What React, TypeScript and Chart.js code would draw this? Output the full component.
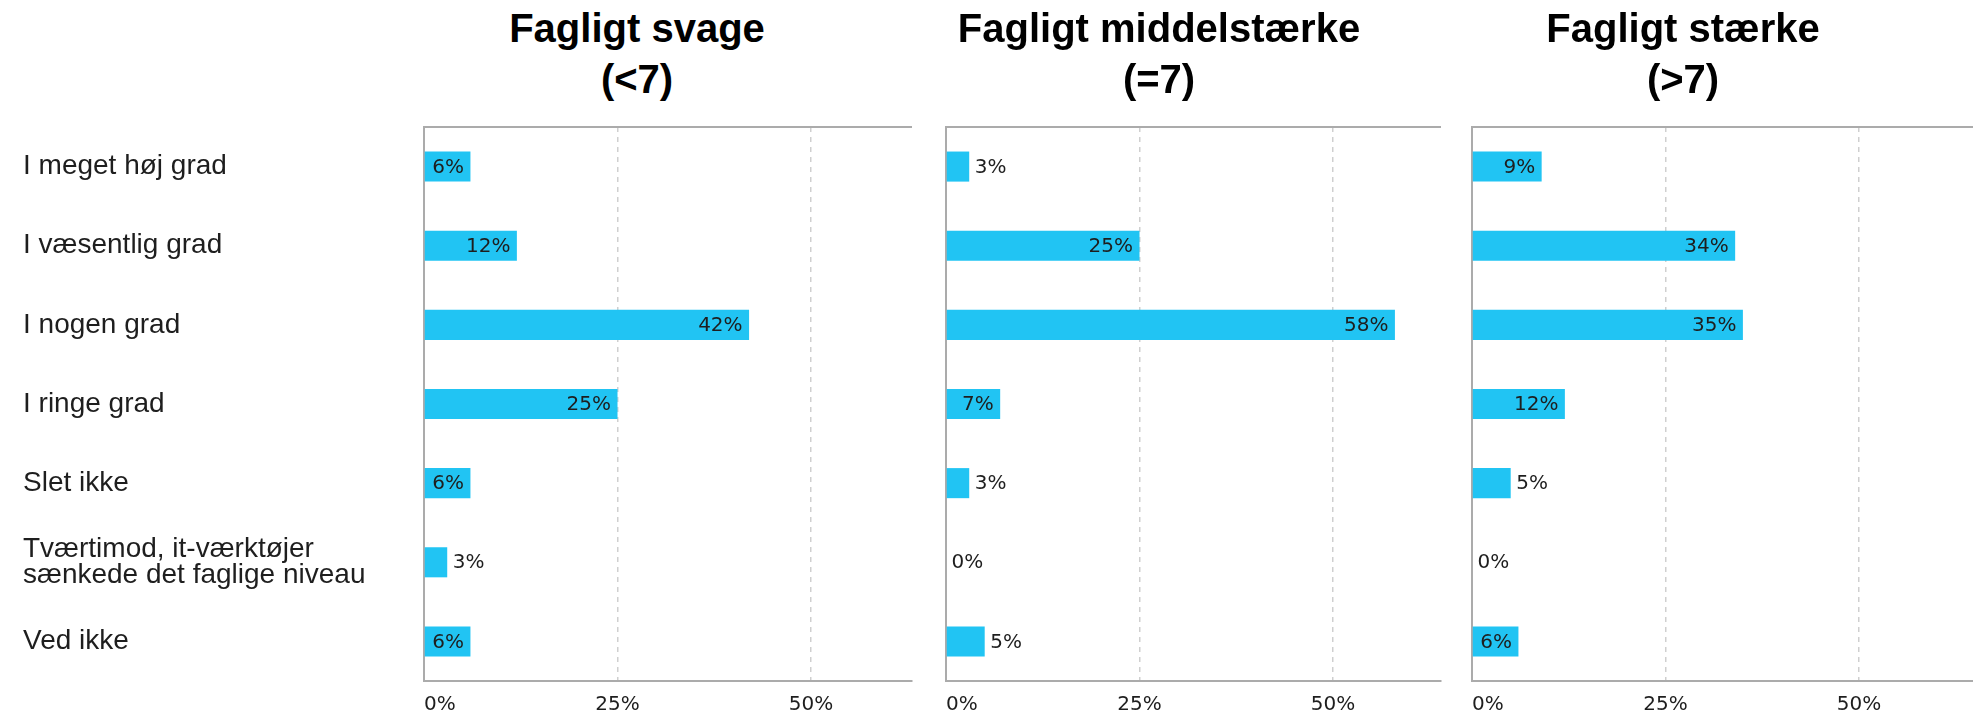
import React, { useEffect, useRef } from 'react';
import { Chart, registerables } from 'chart.js';

Chart.register(...registerables);

// ---------- data ----------
const categories: (string | string[])[] = [
  'I meget høj grad',
  'I væsentlig grad',
  'I nogen grad',
  'I ringe grad',
  'Slet ikke',
  ['Tværtimod, it-værktøjer', 'sænkede det faglige niveau'],
  'Ved ikke',
];
const svageTitle = ['Fagligt svage', '(<7)'];
const middelTitle = ['Fagligt middelstærke', '(=7)'];
const staerkeTitle = ['Fagligt stærke', '(>7)'];
const svageValues = [6, 12, 42, 25, 6, 3, 6];
const middelValues = [3, 25, 58, 7, 3, 0, 5];
const staerkeValues = [9, 34, 35, 12, 5, 0, 6];
const xTickStep = 25;

// ---------- style / layout ----------
const BAR = '#21C4F3';
const AXIS = '#ababab';
const GRID = '#cfcfcf';
const TEXT = '#1e1e1e';
const PX_PER_PCT = 7.74;
const CANVAS_TOP = 100;
const CANVAS_H = 615;
const PLOT_TOP = 127;

type Geo = {
  canvasLeft: number;
  canvasWidth: number;
  plotLeft: number;
  plotRight: number;
  padLeft: number;
  titleCenter: number;
};

const geo1: Geo = { canvasLeft: 0, canvasWidth: 930, plotLeft: 424, plotRight: 912, padLeft: 23, titleCenter: 637 };
const geo2: Geo = { canvasLeft: 886, canvasWidth: 565, plotLeft: 946, plotRight: 1441, padLeft: 0, titleCenter: 1159 };
const geo3: Geo = { canvasLeft: 1412, canvasWidth: 561, plotLeft: 1472, plotRight: 1973, padLeft: 0, titleCenter: 1683 };

const topLinePlugin = {
  id: 'topLine',
  afterDraw(chart: any) {
    const { ctx, chartArea } = chart;
    ctx.save();
    ctx.strokeStyle = AXIS;
    ctx.lineWidth = 2;
    ctx.beginPath();
    ctx.moveTo(chartArea.left - 1, chartArea.top);
    ctx.lineTo(chartArea.right, chartArea.top);
    ctx.stroke();
    ctx.restore();
  },
};

const dataLabelPlugin = {
  id: 'dataLabels',
  afterDatasetsDraw(chart: any) {
    const { ctx } = chart;
    const meta = chart.getDatasetMeta(0);
    const values = chart.data.datasets[0].data as number[];
    ctx.save();
    ctx.font = '20px "DejaVu Sans"';
    ctx.fillStyle = TEXT;
    ctx.textBaseline = 'middle';
    meta.data.forEach((bar: any, i: number) => {
      const { x, y, base } = bar.getProps(['x', 'y', 'base'], true);
      const text = values[i] + '%';
      const w = ctx.measureText(text).width;
      if (x - base >= w + 12) {
        ctx.textAlign = 'right';
        ctx.fillText(text, x - 6.5, y + 1);
      } else {
        ctx.textAlign = 'left';
        ctx.fillText(text, x + 5.5, y + 1);
      }
    });
    ctx.restore();
  },
};

function Panel({ values, geo, showLabels, title }: { values: number[]; geo: Geo; showLabels: boolean; title: string[] }) {
  const ref = useRef<HTMLCanvasElement | null>(null);
  useEffect(() => {
    if (!ref.current) return;
    const yWidth = geo.plotLeft - geo.canvasLeft - geo.padLeft;
    const padRight = geo.canvasLeft + geo.canvasWidth - geo.plotRight;
    const axisMax = (geo.plotRight - geo.plotLeft) / PX_PER_PCT;
    const chart = new Chart(ref.current, {
      type: 'bar',
      data: {
        labels: categories as any,
        datasets: [
          {
            data: values,
            backgroundColor: BAR,
            borderWidth: 0,
            barPercentage: 0.38,
            categoryPercentage: 1,
          },
        ],
      },
      options: {
        indexAxis: 'y',
        animation: false,
        responsive: false,
        maintainAspectRatio: false,
        layout: { padding: { left: geo.padLeft, right: padRight, top: PLOT_TOP - CANVAS_TOP, bottom: 0 } },
        plugins: {
          legend: { display: false },
          tooltip: { enabled: false },
          title: { display: false },
        },
        scales: {
          x: {
            type: 'linear',
            min: 0,
            max: axisMax,
            ticks: {
              stepSize: xTickStep,
              includeBounds: false,
              autoSkip: false,
              maxRotation: 0,
              padding: 12,
              color: TEXT,
              font: { family: '"DejaVu Sans"', size: 20 },
              callback: (v: any) => (Number(v) === 0 ? '     0%' : v + '%'),
            },
            grid: {
              drawTicks: false,
              lineWidth: 1.5,
              color: (ctx: any) => (ctx.tick && ctx.tick.value === 0 ? 'rgba(0,0,0,0)' : GRID),
            },
            border: { display: true, color: AXIS, width: 2, dash: [5, 5] },
            afterFit: (s: any) => {
              s.height = 34;
            },
          },
          y: {
            type: 'category',
            ticks: {
              display: showLabels,
              crossAlign: 'far',
              color: TEXT,
              font: { family: '"Liberation Sans", Arial, sans-serif', size: 28, lineHeight: 0.95 },
            },
            grid: { display: false, drawTicks: false },
            border: { display: true, color: AXIS, width: 2 },
            afterFit: (s: any) => {
              s.width = yWidth;
            },
          },
        },
      } as any,
      plugins: [topLinePlugin, dataLabelPlugin],
    });
    return () => chart.destroy();
  }, [values, geo, showLabels]);

  return (
    <>
      <div
        style={{
          position: 'absolute',
          left: geo.titleCenter - 300,
          width: 600,
          top: 3,
          textAlign: 'center',
          fontFamily: '"Liberation Sans", Arial, sans-serif',
          fontWeight: 'bold',
          fontSize: 40,
          lineHeight: '51px',
          color: '#000',
        }}
      >
        {title.map((t, i) => (
          <div key={i}>{t}</div>
        ))}
      </div>
      <canvas
        ref={ref}
        width={geo.canvasWidth}
        height={CANVAS_H}
        style={{
          position: 'absolute',
          left: geo.canvasLeft,
          top: CANVAS_TOP,
          width: geo.canvasWidth,
          height: CANVAS_H,
        }}
      />
    </>
  );
}

export default function App() {
  return (
    <div
      style={{
        position: 'absolute',
        left: 0,
        top: 0,
        width: 1973,
        height: 715,
        overflow: 'hidden',
        background: '#fff',
      }}
    >
      <Panel values={svageValues} geo={geo1} showLabels={true} title={svageTitle} />
      <Panel values={middelValues} geo={geo2} showLabels={false} title={middelTitle} />
      <Panel values={staerkeValues} geo={geo3} showLabels={false} title={staerkeTitle} />
    </div>
  );
}
